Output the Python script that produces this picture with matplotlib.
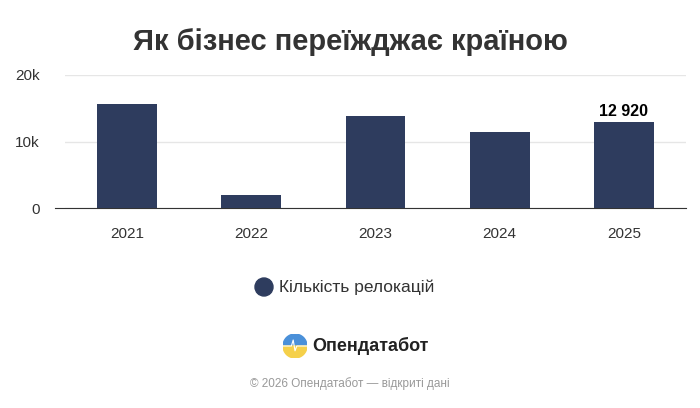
import matplotlib
matplotlib.use("Agg")
import matplotlib.pyplot as plt
from matplotlib.patches import Wedge, Ellipse

years = ["2021", "2022", "2023", "2024", "2025"]
values = [15600, 1950, 13900, 11450, 12920]
yticks = [0, 10000, 20000]
ytick_labels = ["0", "10k", "20k"]

plt.rcParams['font.family'] = ['Liberation Sans', 'DejaVu Sans']
fig = plt.figure(figsize=(7, 4.08), dpi=100)
fig.patch.set_facecolor("white")
ax = fig.add_axes([65/700, 1-208/408, (686-65)/700, (208-75)/408])
color = "#2e3c5e"
ax.bar(range(len(years)), values, width=0.48, color=color, zorder=3)
ax.set_ylim(0, 20000)
ax.set_xlim(-0.5, 4.5)
ax.set_yticks(yticks)
ax.set_yticklabels(ytick_labels, fontsize=11, color="#333333")
ax.set_xticks(range(len(years)))
ax.set_xticklabels(years, fontsize=11, color="#333333")
ax.tick_params(axis='both', length=0, pad=18)
ax.tick_params(axis='x', pad=14)
ax.grid(axis='y', color="#e6e6e6", lw=1, zorder=0)
for s in ["top", "right", "left"]:
    ax.spines[s].set_visible(False)
ax.spines["bottom"].set_color("#333333")
ax.spines["bottom"].set_bounds(-0.58, 4.5)
ax.text(4, values[4] + 500, "12 920", ha="center", va="bottom", fontsize=11.5, fontweight="bold", color="black")

fig.text(0.5, 1-42/408, "Як бізнес переїжджає країною", ha="center", va="center", fontsize=21, fontweight="bold", color="#333333")
fig.patches.append(Ellipse((264/700, 1-287/408), 18/700, 18/408, transform=fig.transFigure, color=color, figure=fig))
fig.text(279/700, 1-287/408, "Кількість релокацій", ha="left", va="center", fontsize=12.5, color="#333333")

# logo
cx, cy, r = 295/700, 1-346/408, 12
lax = fig.add_axes([(cx*700-r)/700, (cy*408-r)/408, 2*r/700, 2*r/408])
lax.set_xlim(-1, 1); lax.set_ylim(-1, 1); lax.axis("off")
lax.add_patch(Wedge((0, 0), 1, 0, 180, color="#4a90d9"))
lax.add_patch(Wedge((0, 0), 1, 180, 360, color="#f5d04a"))
lax.plot([-1, -0.3, -0.15, 0, 0.15, 1], [0, 0, 0.5, -0.4, 0, 0], color="white", lw=0.8)
fig.text(312/700, 1-346/408, "Опендатабот", ha="left", va="center", fontsize=13, fontweight="bold", color="#222222")
fig.text(0.5, 1-384/408, "© 2026 Опендатабот — відкриті дані", ha="center", va="center", fontsize=8.5, color="#999999")
fig.savefig("out.png", dpi=100, facecolor="white")
